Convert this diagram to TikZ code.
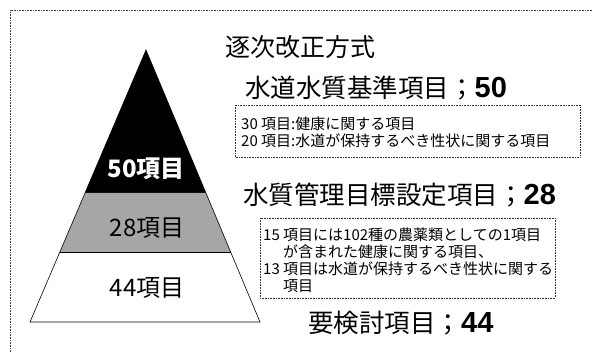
\documentclass[tikz,border=0pt]{standalone}
\usepackage{fontspec}
\newfontfamily\jp{Noto Sans CJK JP}
\newfontfamily\ars{Liberation Sans}
\begin{document}
\begin{tikzpicture}[x=1pt,y=-1pt,
  frameline/.style={densely dotted,line width=0.6pt,black!75},
  notebox/.style={densely dotted,line width=0.6pt,black!80},
  layerlabel/.style={font=\jp\fontsize{24}{26}\selectfont,inner sep=0pt},
  heading/.style={font=\jp\fontsize{25.5}{28}\selectfont,anchor=west,inner sep=0pt},
  noteline/.style={font=\jp\fontsize{15}{17}\selectfont,anchor=west,inner sep=0pt}]
\useasboundingbox (0,0) rectangle (592,352);
% outer open frame
\draw[frameline] (592,10) -- (10,10) -- (10,352);
% pyramid
\coordinate (apex) at (146,50);
\coordinate (l1) at (85,193);
\coordinate (r1) at (205.9,193);
\coordinate (l2) at (59.9,252);
\coordinate (r2) at (230.7,252);
\coordinate (bl) at (30,322);
\coordinate (br) at (260,322);
\fill[black] (apex) -- (r1) -- (l1) -- cycle;
\fill[black!35] (l1) -- (r1) -- (r2) -- (l2) -- cycle;
\draw[line width=0.6pt] (apex) -- (br) -- (bl) -- cycle;
\draw[line width=0.9pt] (l2) -- (r2);
\node[layerlabel,text=white,font=\jp\bfseries\fontsize{24}{26}\selectfont] (n50) at (146,169) {50項目};
\node[layerlabel] (n28) at (147,228) {28項目};
\node[layerlabel] (n44) at (147,288) {44項目};
% texts
\node[heading,font=\jp\fontsize{25}{27}\selectfont] (title) at (225,47) {逐次改正方式};
\node[heading] (h1) at (245,88) {水道水質基準項目；{\ars\bfseries\fontsize{29}{30}\selectfont 50}};
\draw[notebox] (235,105) rectangle (580,157);
\node[noteline] (b1a) at (241,124) {30 項目:健康に関する項目};
\node[noteline] (b1b) at (241,141) {20 項目:水道が保持するべき性状に関する項目};
\node[heading] (h2) at (243,195) {水質管理目標設定項目；{\ars\bfseries\fontsize{29}{30}\selectfont 28}};
\draw[notebox] (260,218) rectangle (555,298);
\node[noteline] (b2a) at (263,235) {15 項目には102種の農薬類としての1項目};
\node[noteline] (b2b) at (283,252) {が含まれた健康に関する項目、};
\node[noteline] (b2c) at (263,269) {13 項目は水道が保持するべき性状に関する};
\node[noteline] (b2d) at (283,286) {項目};
\node[heading] (h3) at (308,323) {要検討項目；{\ars\bfseries\fontsize{29}{30}\selectfont 44}};
\end{tikzpicture}
\end{document}
